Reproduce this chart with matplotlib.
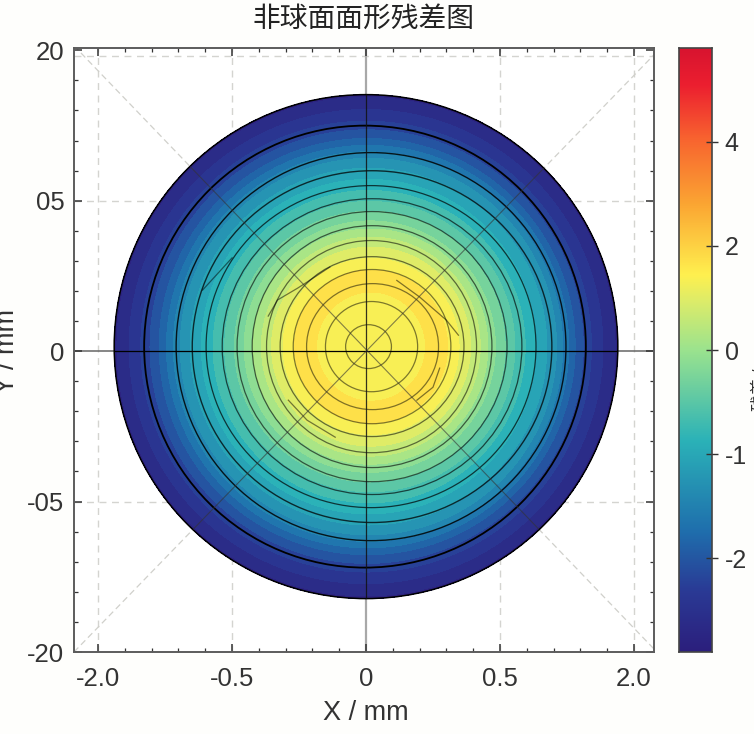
import matplotlib
import numpy as np
from matplotlib.colors import LinearSegmentedColormap
from matplotlib.patches import Ellipse

matplotlib.use('Agg')
import matplotlib.pyplot as plt

plt.rcParams['font.family'] = ['Liberation Sans', 'Noto Sans CJK SC', 'DejaVu Sans']

# x / y ticks are evenly spaced but labelled unevenly in the original
x_ticks = [-2, -1, 0, 1, 2]
x_labels = ['-2.0', '-0.5', '0', '0.5', '2.0']
y_ticks = [-2, -1, 0, 1, 2]
y_labels = ['-20', '-05', '0', '05', '20']
cbar_ticks = [-2, -1, 0, 1, 2]
cbar_labels = ['-2', '-1', '0', '2', '4']

# radial profile (radius as share of the aperture, colour position)
field_radius = [0.0, 0.10, 0.20, 0.30, 0.34, 0.42, 0.50, 0.58, 0.66, 0.74, 0.82, 0.90, 1.0]
field_value = [0.68, 0.70, 0.77, 0.79, 0.62, 0.28, -0.20, -0.60, -0.95, -1.30, -1.90, -2.35, -2.75]
field_cx = [0.02, 0.02, 0.02, 0.02, 0.02, 0.02, 0.015, 0.015, 0.01, 0.01, 0.005, 0.0, 0.0]

# contour rings: centre offset and semi axes, shares of the aperture
ring_rx = [0.091, 0.183, 0.262, 0.313, 0.365, 0.417, 0.476, 0.536, 0.595, 0.655, 0.714, 0.774, 0.877, 1.0]
ring_ry = [0.087, 0.179, 0.250, 0.306, 0.357, 0.421, 0.480, 0.536, 0.587, 0.639, 0.698, 0.770, 0.877, 1.0]
ring_cx = [0.010, 0.022, 0.026, 0.024, 0.024, 0.022, 0.024, 0.024, 0.024, 0.020, 0.024, 0.020, -0.004, 0.0]
ring_width = [0.9, 0.9, 0.9, 0.9, 0.9, 0.9, 0.9, 0.9, 0.9, 0.9, 1.0, 1.0, 1.3, 1.1]
ring_alpha = [0.5, 0.5, 0.5, 0.5, 0.55, 0.55, 0.6, 0.6, 0.65, 0.7, 0.75, 0.85, 1.0, 1.0]

stray_x = [
    [-0.73, -0.66, -0.51, -0.44, -0.27],
    [0.23, 0.40, 0.60, 0.69],
    [-0.58, -0.44, -0.23],
    [0.55, 0.50, 0.38],
    [-1.00, -1.22],
]
stray_y = [
    [0.233, 0.340, 0.419, 0.459, 0.559],
    [0.470, 0.360, 0.206, 0.106],
    [-0.326, -0.459, -0.572],
    [-0.113, -0.240, -0.326],
    [0.620, 0.406],
]

cmap_stops = [
    (0.00, '#2c1f7d'), (0.10, '#2a3a95'), (0.20, '#1f6fad'), (0.35, '#2bb2b8'),
    (0.50, '#9be38e'), (0.58, '#dcec6a'), (0.625, '#fff04f'), (0.74, '#fba733'),
    (0.85, '#f8642f'), (0.94, '#ec1f30'), (1.00, '#d8142f'),
]
cmap = LinearSegmentedColormap.from_list('residual', cmap_stops)

aperture_x = 1.88
aperture_y = 1.675
center_y = 0.03
value_min, value_max = -2.9, 2.9
text_color = '#333333'

figure = plt.figure(figsize=(7.54, 7.34), dpi=100, facecolor='#fefefc')
axis = figure.add_axes([74 / 754, 1 - 652 / 734, 580 / 754, 604 / 734])
cbar_axis = figure.add_axes([679 / 754, 1 - 652 / 734, 33 / 754, 604 / 734])

axis.set_xlim(-2.18, 2.15)
axis.set_ylim(-2.0, 2.015)

# background guides
for position in x_ticks:
    if position != 0:
        axis.axvline(position, color='#d4d4d0', lw=1, ls=(0, (5, 4)), zorder=1)
for position in [-1, 1, 1.96]:
    axis.axhline(position, color='#d4d4d0', lw=1, ls=(0, (5, 4)), zorder=1)
diagonal_x = [-2.18, 2.15]
diagonal_up = [-2.0, 1.97]
diagonal_down = [2.03, -1.98]
axis.plot(diagonal_x, diagonal_up, color='#d0d0cb', lw=0.9, ls=(0, (5, 3)), zorder=1)
axis.plot(diagonal_x, diagonal_down, color='#d0d0cb', lw=0.9, ls=(0, (5, 3)), zorder=1)
axis.axvline(0, color='#a8a8a8', lw=1.6, zorder=1)
axis.axhline(0, color='#666666', lw=1.1, zorder=1)

# field, drawn on a polar mesh so contourf gives the stepped bands
theta = np.linspace(0, 2 * np.pi, 181)
radius = np.asarray(field_radius)
mesh_x = aperture_x * (np.outer(radius, np.cos(theta)) + np.asarray(field_cx)[:, None])
mesh_y = aperture_y * np.outer(radius, np.sin(theta)) + center_y
mesh_z = np.outer(np.asarray(field_value), np.ones_like(theta))
levels = np.linspace(value_min, value_max, 31)
axis.contourf(mesh_x, mesh_y, mesh_z, levels=levels, cmap=cmap, zorder=2)

# rings, dark outside and fading towards the middle
for cx, rx, ry, width, alpha in zip(ring_cx, ring_rx, ring_ry, ring_width, ring_alpha):
    axis.add_patch(Ellipse(
        (cx * aperture_x, center_y), 2 * rx * aperture_x, 2 * ry * aperture_y,
        fill=False, ec='black', lw=width, alpha=alpha, zorder=3,
    ))
for piece_x, piece_y in zip(stray_x, stray_y):
    axis.plot(piece_x, piece_y, color='black', lw=0.9, alpha=0.5, zorder=3)

# cross hair and diagonals over the field, kept inside the aperture
aperture = Ellipse((0, center_y), 2 * aperture_x, 2 * aperture_y, transform=axis.transData)
overlays = [
    axis.plot([-2.18, 2.15], [0, 0], color='black', lw=0.9, zorder=4)[0],
    axis.plot([0, 0], [-2.0, 2.015], color='#111111', lw=0.9, alpha=0.85, zorder=4)[0],
    axis.plot(diagonal_x, diagonal_up, color='#333333', lw=0.8, alpha=0.6, zorder=4)[0],
    axis.plot(diagonal_x, diagonal_down, color='#333333', lw=0.8, alpha=0.6, zorder=4)[0],
]
for line in overlays:
    line.set_clip_path(aperture)

axis.set_xticks(x_ticks)
axis.set_xticklabels(x_labels)
axis.set_yticks(y_ticks)
axis.set_yticklabels(y_labels)
axis.set_xticks(np.arange(-2.0, 2.01, 0.2), minor=True)
axis.set_yticks(np.arange(-2.0, 2.01, 0.2), minor=True)
axis.tick_params(which='major', direction='in', length=6, width=1.1, top=True, right=True,
                 labelsize=18.5, colors=text_color)
axis.tick_params(axis='x', which='major', pad=11)
axis.tick_params(axis='y', which='major', pad=7)
axis.tick_params(which='minor', direction='in', length=3, width=0.9, top=True, right=True, colors=text_color)
for spine in axis.spines.values():
    spine.set_color('#5c5c5c')
    spine.set_linewidth(1.4)

figure.text(366 / 754, 1 - 713 / 734, 'X / mm', fontsize=19.5, color=text_color, ha='center', va='center')
figure.text(7 / 754, 1 - 352 / 734, 'Y / mm', fontsize=19.5, color=text_color, rotation=90, ha='center', va='center')
figure.text(363 / 754, 1 - 20 / 734, '非球面面形残差图', fontsize=20, color='#222222', ha='center', va='center')

# colour bar
gradient = np.linspace(value_min, value_max, 256).reshape(-1, 1)
cbar_axis.imshow(gradient, origin='lower', aspect='auto', cmap=cmap, vmin=value_min, vmax=value_max,
                 extent=[0, 1, value_min, value_max])
cbar_axis.set_xticks([])
cbar_axis.yaxis.tick_right()
cbar_axis.set_yticks(cbar_ticks)
cbar_axis.set_yticklabels(cbar_labels)
cbar_axis.tick_params(axis='y', direction='inout', length=8, width=1, labelsize=18, colors=text_color, pad=5)
for spine in cbar_axis.spines.values():
    spine.set_color('#444444')
    spine.set_linewidth(1.2)
figure.text(751 / 754, 1 - 376 / 734, '残差 / μm', fontsize=12, color=text_color, rotation=90, ha='left', va='center')

figure.savefig('out.png', dpi=100, facecolor=figure.get_facecolor())
plt.close(figure)
